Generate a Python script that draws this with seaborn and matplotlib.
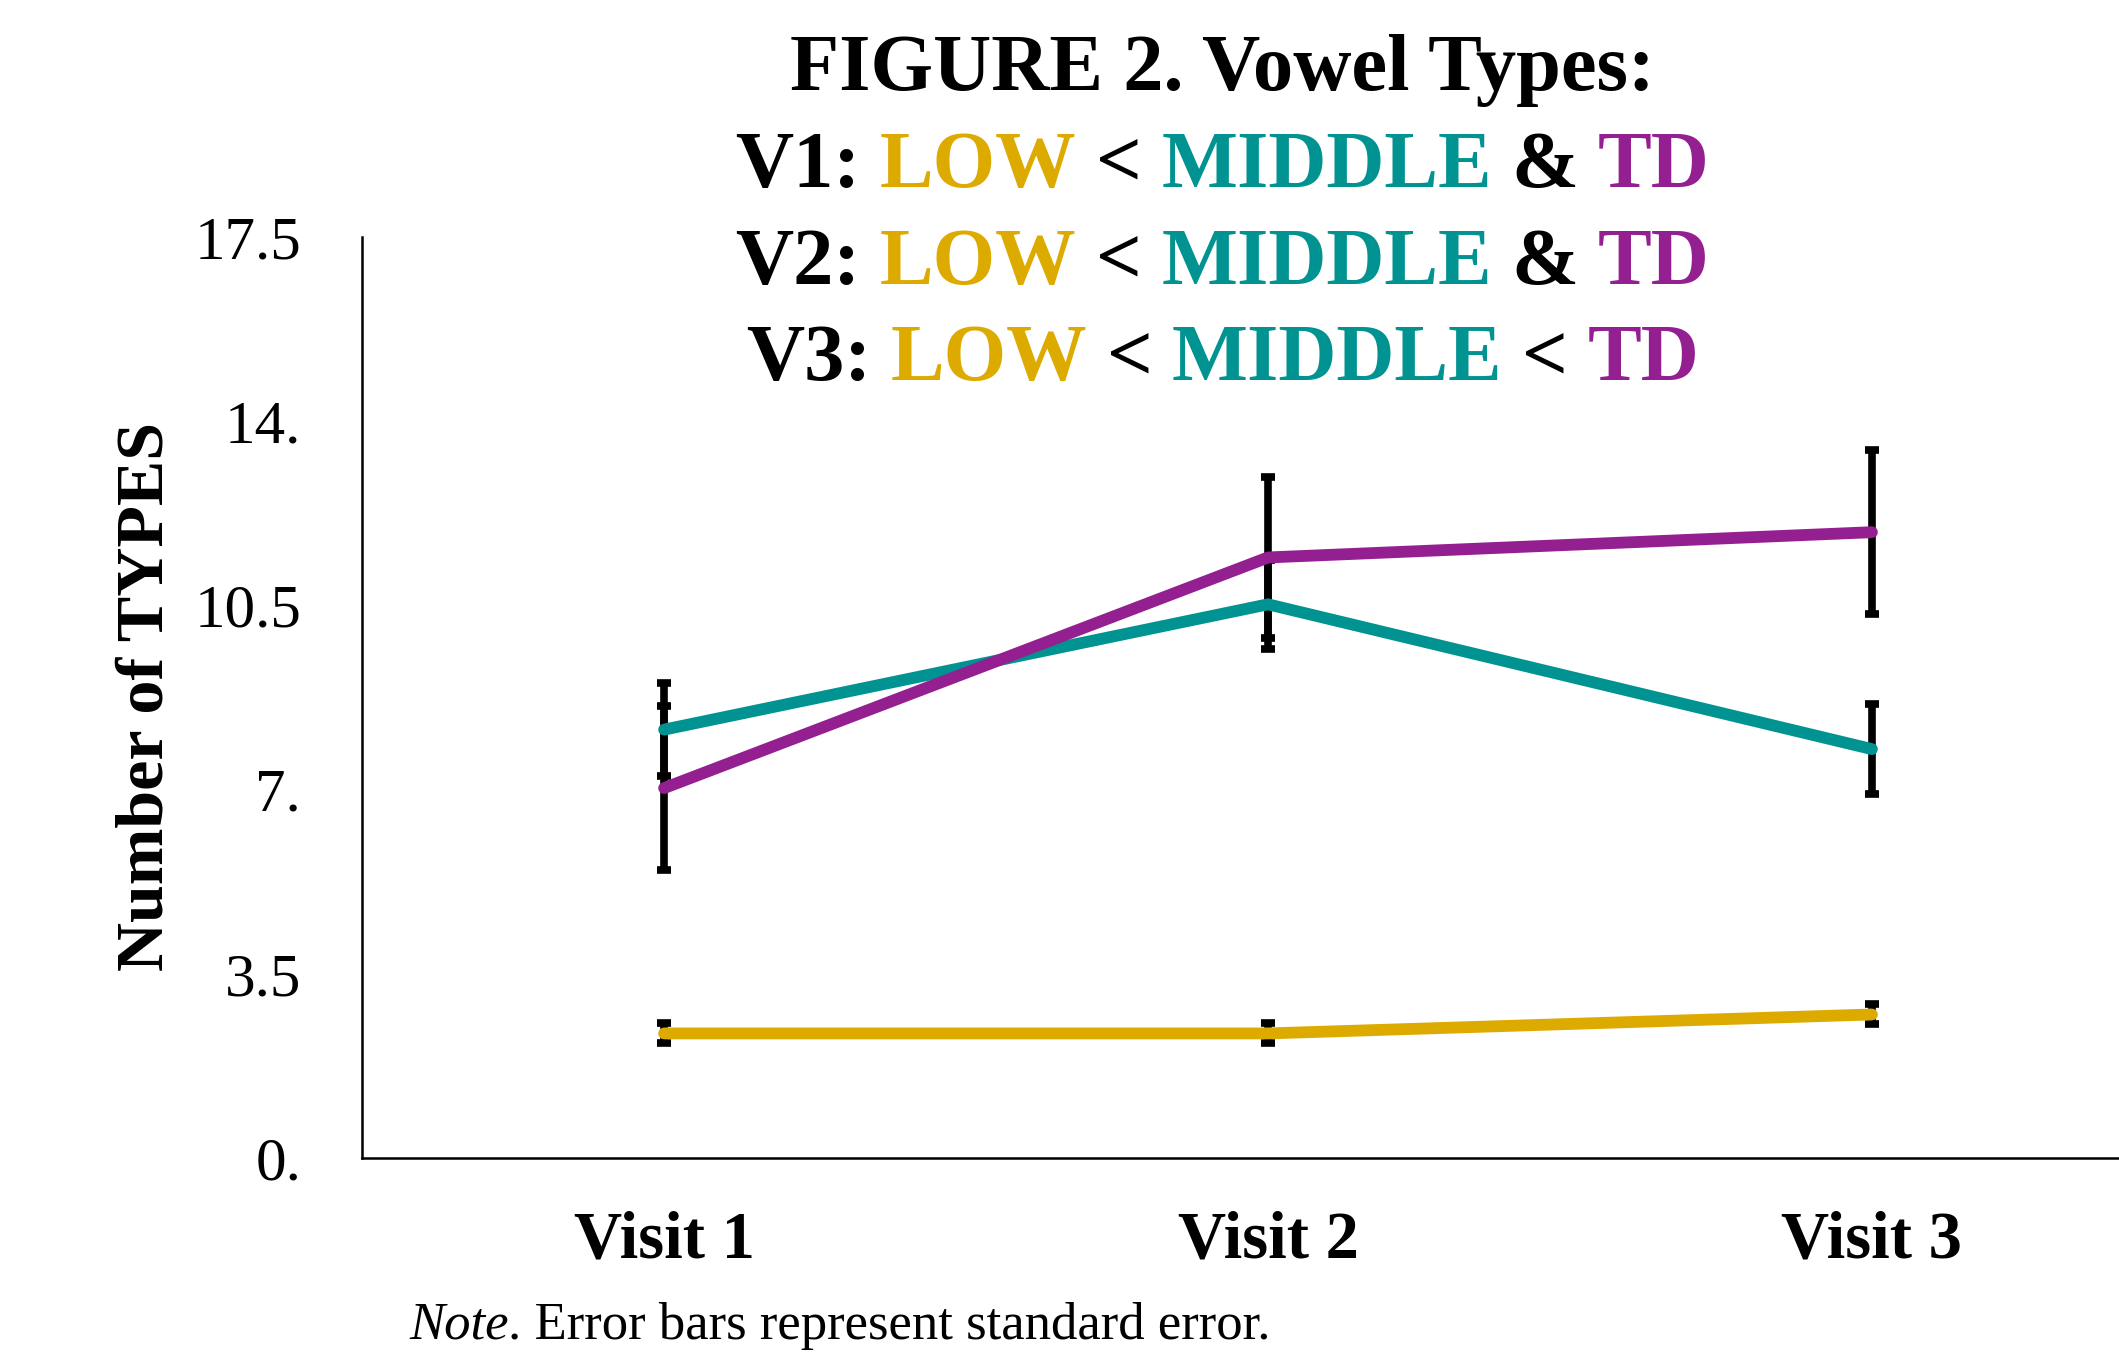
import numpy as np
import pandas as pd
import matplotlib
matplotlib.use('Agg')
import matplotlib.pyplot as plt
import seaborn as sns
from matplotlib.offsetbox import TextArea, HPacker, AnchoredOffsetbox

# values
visits = ['Visit 1', 'Visit 2', 'Visit 3']
groups = ['LOW', 'MIDDLE', 'TD']
low_mean = [2.37, 2.37, 2.73]
low_se = [0.19, 0.19, 0.19]
middle_mean = [8.14, 10.52, 7.77]
middle_se = [0.88, 0.85, 0.85]
td_mean = [7.03, 11.41, 11.89]
td_se = [1.55, 1.53, 1.56]

y_ticks = [0, 3.5, 7, 10.5, 14, 17.5]
y_ticklabels = ['0.', '3.5', '7.', '10.5', '14.', '17.5']

colors = {'LOW': '#DDAA00', 'MIDDLE': '#009391', 'TD': '#931F90'}

sns.set_theme(style='white')
plt.rcParams['font.family'] = ['Liberation Serif', 'DejaVu Serif']
plt.rcParams['text.color'] = 'black'
plt.rcParams['xtick.color'] = 'black'
plt.rcParams['ytick.color'] = 'black'
plt.rcParams['axes.labelcolor'] = 'black'

# long table for seaborn
df = pd.DataFrame({
    'visit': visits * 3,
    'pos': list(range(len(visits))) * 3,
    'group': [g for g in groups for _ in visits],
    'mean': low_mean + middle_mean + td_mean,
    'se': low_se + middle_se + td_se,
})

fig = plt.figure(figsize=(21.19, 13.61), dpi=100)
ax = fig.add_axes([0.1709, 0.149, 0.855, 0.677])

# error bars first, lines drawn on top
for g in groups:
    sub = df[df['group'] == g]
    ax.errorbar(sub['pos'], sub['mean'], yerr=sub['se'], fmt='none',
                ecolor='black', elinewidth=5.5, capsize=5, capthick=5.5, zorder=1)

sns.lineplot(data=df, x='pos', y='mean', hue='group', hue_order=groups,
             palette=colors, linewidth=8.5, solid_capstyle='round',
             legend=False, ax=ax, zorder=3)

ax.set_xlim(-0.5, 2.5)
ax.set_ylim(0, 17.5)
ax.set_xticks(range(len(visits)))
ax.set_xticklabels(visits, fontsize=48, fontweight='bold', color='black')
ax.set_yticks(y_ticks)
ax.set_yticklabels(y_ticklabels, fontsize=44, color='black')
ax.tick_params(axis='both', length=0)
ax.tick_params(axis='y', pad=44)
ax.tick_params(axis='x', pad=38)
ax.set_xlabel('')
ax.set_ylabel('')
ax.grid(False)
for side in ['top', 'right']:
    ax.spines[side].set_visible(False)
for side in ['left', 'bottom']:
    ax.spines[side].set_color('black')
    ax.spines[side].set_linewidth(1.8)

fig.text(0.069, 0.488, 'Number of TYPES', rotation=90, fontsize=49,
         fontweight='bold', ha='center', va='center', color='black')

# multi-coloured title, one line at a time
title_lines = [
    [('FIGURE 2. Vowel Types:', 'black')],
    [('V1:', 'black'), ('LOW', colors['LOW']), ('<', 'black'),
     ('MIDDLE', colors['MIDDLE']), ('&', 'black'), ('TD', colors['TD'])],
    [('V2:', 'black'), ('LOW', colors['LOW']), ('<', 'black'),
     ('MIDDLE', colors['MIDDLE']), ('&', 'black'), ('TD', colors['TD'])],
    [('V3:', 'black'), ('LOW', colors['LOW']), ('<', 'black'),
     ('MIDDLE', colors['MIDDLE']), ('<', 'black'), ('TD', colors['TD'])],
]
line_y = [0.948, 0.877, 0.806, 0.735]
for parts, yy in zip(title_lines, line_y):
    boxes = [TextArea(t, textprops=dict(color=c, fontsize=58, fontweight='bold'))
             for t, c in parts]
    pack = HPacker(children=boxes, align='baseline', pad=0, sep=14)
    ab = AnchoredOffsetbox(loc='center', child=pack, pad=0, frameon=False,
                           bbox_to_anchor=(0.577, yy),
                           bbox_transform=fig.transFigure, borderpad=0)
    fig.add_artist(ab)

# note under the chart
note = HPacker(children=[
    TextArea('Note', textprops=dict(fontsize=38, style='italic', color='black')),
    TextArea('. Error bars represent standard error.',
             textprops=dict(fontsize=38, color='black')),
], align='baseline', pad=0, sep=0)
fig.add_artist(AnchoredOffsetbox(loc='center left', child=note, pad=0, frameon=False,
                                 bbox_to_anchor=(0.193, 0.026),
                                 bbox_transform=fig.transFigure, borderpad=0))

fig.savefig('out.png', dpi=100)
